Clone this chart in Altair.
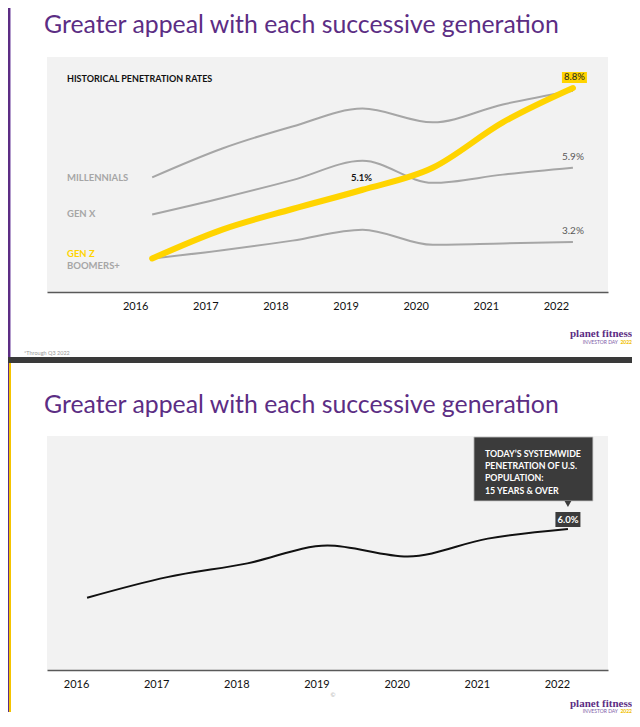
import altair as alt
import pandas as pd

# ---------------- data ----------------
years = [2016, 2017, 2018, 2019, 2020, 2021, 2022]
millennials = [5.55, 6.6, 7.4, 8.05, 7.55, 8.2, 8.7]
gen_x = [4.2, 4.8, 5.45, 6.15, 5.35, 5.65, 5.9]
gen_z = [2.6, 3.65, 4.4, 5.1, 5.9, 7.55, 8.8]
boomers = [2.6, 2.9, 3.25, 3.65, 3.1, 3.15, 3.2]
systemwide = [3.5, 4.25, 4.75, 5.4, 5.0, 5.65, 6.0]

series_names = ["MILLENNIALS", "GEN X", "GEN Z", "BOOMERS+"]
series_values = [millennials, gen_x, gen_z, boomers]

slide_title = "Greater appeal with each successive generation"
chart_subtitle = "HISTORICAL PENETRATION RATES"
callout_lines = ["TODAY\u2019S SYSTEMWIDE", "PENETRATION OF U.S.", "POPULATION:", "15 YEARS & OVER"]
footnote = "*Through Q3 2022"
logo_main = "planet fitness"
logo_sub = "INVESTOR DAY"
logo_year = "2022"

# ---------------- tables ----------------
gen_df = pd.DataFrame(
    [{"year": y, "series": s, "value": v}
     for s, vals in zip(series_names, series_values)
     for y, v in zip(years, vals)]
)
sys_df = pd.DataFrame({"year": years, "value": systemwide})
one = pd.DataFrame({"k": [0]})

PURPLE = "#5c2d84"
YELLOW = "#ffd400"
GRAY = "#a6a6a6"
FONT = "Lato"

# ---------------- panel 1 ----------------
W1, H1 = 561, 235
x1 = alt.X("year:Q",
           scale=alt.Scale(domain=[2014.5, 2022.5], nice=False, zero=False),
           axis=alt.Axis(values=years, format="d", title=None, grid=False, ticks=False,
                         domainColor="#595959", domainWidth=1.5, labelOffset=-17, labelPadding=8,
                         labelFontSize=11, labelColor="#111111", labelFont=FONT,
                         labelFlush=False))
y1 = alt.Y("value:Q", scale=alt.Scale(domain=[1.382, 9.927], nice=False, zero=False), axis=None)

base1 = alt.Chart(gen_df)
gray_lines = base1.transform_filter("datum.series != 'GEN Z'").mark_line(
    interpolate="monotone", color=GRAY, strokeWidth=2).encode(x=x1, y=y1, detail="series:N")
genz_line = base1.transform_filter("datum.series == 'GEN Z'").mark_line(
    interpolate="monotone", color=YELLOW, strokeWidth=6, strokeCap="round").encode(x=x1, y=y1)

series_labels = []
for name, dy, col in [("MILLENNIALS", 1, GRAY), ("GEN X", -1, GRAY),
                      ("GEN Z", -5, YELLOW), ("BOOMERS+", 7, GRAY)]:
    series_labels.append(
        base1.transform_filter(f"datum.series == '{name}' && datum.year == 2016").mark_text(
            align="left", baseline="middle", dy=dy, font=FONT, fontWeight="bold",
            fontSize=9.5, color=col).encode(x=alt.value(20), y=y1, text="series:N"))

lab = base1.transform_calculate(label="format(datum.value, '.1f') + '%'")
genz_end = lab.transform_filter("datum.series == 'GEN Z' && datum.year == 2022")
box88 = genz_end.mark_rect(width=25, height=11, color=YELLOW).encode(
    x=x1, y=y1, xOffset=alt.value(1.5), yOffset=alt.value(-10.5))
txt88 = genz_end.mark_text(dy=-10.5, dx=1.5, baseline="middle", font=FONT, fontSize=9.5,
                           color="#222222").encode(x=x1, y=y1, text="label:N")
other_end = lab.transform_filter(
    "(datum.series == 'GEN X' || datum.series == 'BOOMERS+') && datum.year == 2022").mark_text(
    dy=-11, baseline="middle", font=FONT, fontSize=10, color="#595959").encode(
    x=x1, y=y1, text="label:N")
genz_2019 = lab.transform_filter("datum.series == 'GEN Z' && datum.year == 2019").mark_text(
    dy=-12, dx=-1, baseline="middle", font=FONT, fontSize=9.5, fontWeight="bold",
    color="#111111").encode(x=x1, y=y1, text="label:N")

d1 = alt.Chart(one)
title1 = d1.mark_text(text=slide_title, align="left", baseline="alphabetic", font=FONT,
                      fontSize=24.8, color=PURPLE).encode(x=alt.value(-3), y=alt.value(-24))
sub1 = d1.mark_text(text=chart_subtitle, align="left", baseline="middle", font=FONT,
                    fontWeight="bold", fontSize=9, color="#111111").encode(
    x=alt.value(20), y=alt.value(22))
foot1 = d1.mark_text(text=footnote, align="left", baseline="middle", font=FONT,
                     fontSize=5.5, color="#9a9a9a").encode(x=alt.value(-23), y=alt.value(296))
logo1a = d1.mark_text(text=logo_main, align="right", baseline="middle", font="Liberation Serif",
                      fontWeight="bold", fontSize=11, color=PURPLE).encode(
    x=alt.value(585), y=alt.value(277))
logo1b = d1.mark_text(text=logo_sub, align="right", baseline="middle", font=FONT,
                      fontSize=5, color="#7d5ba6").encode(x=alt.value(571), y=alt.value(285))
logo1c = d1.mark_text(text=logo_year, align="right", baseline="middle", font=FONT,
                      fontWeight="bold", fontSize=5, color="#f0c000").encode(
    x=alt.value(585), y=alt.value(285))
sep = d1.mark_rect(color="#3a3a3a").encode(
    x=alt.value(-39), x2=alt.value(585), y=alt.value(300), y2=alt.value(306))
strip1 = d1.mark_rect(color="#5c2d84").encode(
    x=alt.value(-39), x2=alt.value(-37), y=alt.value(-49), y2=alt.value(300))
strip1b = d1.mark_rect(color="#b39ccc").encode(
    x=alt.value(-37), x2=alt.value(-36), y=alt.value(-49), y2=alt.value(300))

panel1 = alt.layer(
    strip1, strip1b, sep, title1, sub1, foot1, logo1a, logo1b, logo1c,
    gray_lines, genz_line, *series_labels, box88, txt88, other_end, genz_2019
).properties(width=W1, height=H1)

# ---------------- panel 2 ----------------
W2, H2 = 561, 234
x2 = alt.X("year:Q",
           scale=alt.Scale(domain=[2015.5, 2022.5], nice=False, zero=False),
           axis=alt.Axis(values=years, format="d", title=None, grid=False, ticks=False,
                         domainColor="#595959", domainWidth=1.5, labelOffset=-11, labelPadding=8,
                         labelFontSize=11, labelColor="#111111", labelFont=FONT,
                         labelFlush=False))
y2 = alt.Y("value:Q", scale=alt.Scale(domain=[0.873, 9.382], nice=False, zero=False), axis=None)

base2 = alt.Chart(sys_df)
sys_line = base2.mark_line(interpolate="monotone", color="#111111", strokeWidth=2).encode(x=x2, y=y2)
end2 = base2.transform_filter("datum.year == 2022").transform_calculate(
    label="format(datum.value, '.1f') + '%'")
callout_box = end2.mark_rect(width=119, height=64, color="#3b3b3b", stroke="#c8c8c8",
                             strokeWidth=0.8).encode(
    x=x2, y=y2, xOffset=alt.value(-34.5), yOffset=alt.value(-60))
callout_tri = end2.mark_point(shape="triangle-down", filled=True, size=45, color="#3b3b3b",
                              opacity=1).encode(x=x2, y=y2, yOffset=alt.value(-25))
callout_txt = end2.mark_text(text=callout_lines, align="left", baseline="alphabetic",
                             dx=-83, dy=-72.5, lineHeight=12.4, font=FONT, fontWeight="bold",
                             fontSize=8.8, color="white").encode(x=x2, y=y2)
box60 = end2.mark_rect(width=25, height=15, color="#3b3b3b").encode(
    x=x2, y=y2, yOffset=alt.value(-9.5))
txt60 = end2.mark_text(dy=-9.5, baseline="middle", font=FONT, fontWeight="bold", fontSize=9.5,
                       color="white").encode(x=x2, y=y2, text="label:N")

d2 = alt.Chart(one)
title2 = d2.mark_text(text=slide_title, align="left", baseline="alphabetic", font=FONT,
                      fontSize=24.8, color=PURPLE).encode(x=alt.value(-3), y=alt.value(-23))
strip2 = d2.mark_rect(color="#5c2d84").encode(
    x=alt.value(-39), x2=alt.value(-38), y=alt.value(-73), y2=alt.value(276))
strip2b = d2.mark_rect(color="#f5c400").encode(
    x=alt.value(-38), x2=alt.value(-36), y=alt.value(-73), y2=alt.value(276))
copy2 = d2.mark_text(text="\u00a9", align="center", baseline="middle", font=FONT,
                     fontSize=6, color="#aaaaaa").encode(x=alt.value(286), y=alt.value(259))
logo2a = d2.mark_text(text=logo_main, align="right", baseline="middle", font="Liberation Serif",
                      fontWeight="bold", fontSize=11, color=PURPLE).encode(
    x=alt.value(585), y=alt.value(268))
logo2b = d2.mark_text(text=logo_sub, align="right", baseline="middle", font=FONT,
                      fontSize=5, color="#7d5ba6").encode(x=alt.value(571), y=alt.value(275))
logo2c = d2.mark_text(text=logo_year, align="right", baseline="middle", font=FONT,
                      fontWeight="bold", fontSize=5, color="#f0c000").encode(
    x=alt.value(585), y=alt.value(275))

panel2 = alt.layer(
    strip2, strip2b, title2, copy2, logo2a, logo2b, logo2c,
    sys_line, callout_box, callout_tri, callout_txt, box60, txt60
).properties(width=W2, height=H2)

chart = alt.vconcat(panel1, panel2, spacing=0).properties(
    padding=0, background="white"
).configure_view(stroke=None, fill="#f2f2f2")

chart.save("out.html", embed_options={"renderer": "svg", "actions": False})
